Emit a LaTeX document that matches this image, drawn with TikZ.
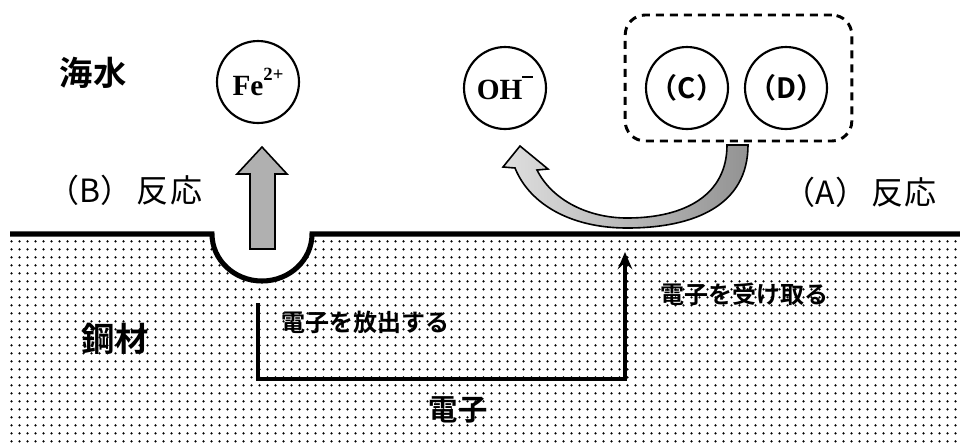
\documentclass[tikz,border=0pt]{standalone}
\usepackage{fontspec}
\newfontfamily\jp{Noto Sans CJK JP}
\newfontfamily\jpb{Noto Sans CJK JP Bold}
\newfontfamily\tnr{Liberation Serif}
\usetikzlibrary{patterns.meta,arrows.meta}
\tikzdeclarepattern{
  name=steeldots,
  type=uncolored,
  bounding box={(0pt,0pt) and (6pt,6pt)},
  tile size={(6pt,6pt)},
  code={\fill (3pt,3pt) circle (1.05pt);}
}
\tikzset{
  ion/.style={draw, circle, line width=1.6pt, minimum size=61.5pt, inner sep=0pt},
  dbox/.style={draw, line width=2.2pt, dash pattern=on 6pt off 4.5pt, rounded corners=15pt,
    minimum width=170pt, minimum height=94.5pt, inner sep=0pt},
  surface/.style={line width=3.8pt},
  eflow/.style={line width=3.3pt, -{Stealth[length=13pt,width=11pt,inset=5pt]}},
  biglabel/.style={font=\jp\fontsize{24}{26}\selectfont, inner sep=0pt},
  boldlabel/.style={font=\jpb\fontsize{25}{28}\selectfont, inner sep=0pt},
  elabel/.style={font=\jpb\fontsize{18}{20}\selectfont, inner sep=0pt},
  ionlabel/.style={font=\tnr\bfseries\fontsize{22}{22}\selectfont},
  cdlabel/.style={font=\jpb\fontsize{21}{22}\selectfont},
  grayarrow/.style={draw, line width=1.2pt, fill=gray!62, line join=miter},
}
\begin{document}
\begin{tikzpicture}[x=0.75pt,y=-0.75pt]
\useasboundingbox (0,0) rectangle (960,444);
% steel body
\fill[pattern=steeldots, pattern color=black]
  (10,234) -- (212,234) arc[start angle=180,end angle=0,x radius=50,y radius=47]
  -- (960,234) -- (960,444) -- (10,444) -- cycle;
\draw[surface] (10,234) -- (212,234) arc[start angle=180,end angle=0,x radius=50,y radius=47]
  -- (960,234);
% labels
\node[boldlabel] (kaisui) at (93,73) {海水};
\node[biglabel] (bhanno) at (125,190) {（B）\hspace{3pt}反\hspace{1pt}応};
\node[biglabel] (ahanno) at (860,192) {（A）\hspace{3pt}反\hspace{1pt}応};
\node[boldlabel] (kozai) at (115,339) {鋼材};
% ions
\node[ion, ionlabel] (fe) at (258,82) {Fe\raisebox{0.5em}{\fontsize{14}{14}\selectfont 2+}};
\node[ion, ionlabel] (oh) at (505,88) {OH\raisebox{0.75em}{\rule{8pt}{1.4pt}}};
\node[ion, cdlabel] (c) at (687,88) {（C）};
\node[ion, cdlabel] (d) at (786,88) {（D）};
\node[dbox] (box) at (738.5,78) {};
% Fe2+ up arrow
\draw[grayarrow] (250,249) -- (250,174) -- (237,174) -- (262,147) -- (287,174)
  -- (275,174) -- (275,249) -- cycle;
% curved arrow
\shade[left color=gray!25, right color=gray!85, draw=black, line width=1.2pt]
  (748,145) .. controls (748,205) and (695,228) .. (627,228)
  .. controls (572,228) and (530,205) .. (515,168)
  -- (503,167) -- (520,146) -- (548,169) -- (537,170)
  .. controls (552,200) and (588,218) .. (627,218)
  .. controls (685,218) and (727,195) .. (727,145) -- cycle;
% electron flow
\coordinate (e1) at (258,303);
\coordinate (e2) at (625,379);
\coordinate (e3) at (625,252);
\draw[eflow] (e1) |- (e2) -- (e3);
\node[elabel, anchor=west] (houshutsu) at (281,322) {電子を放出する};
\node[elabel] (ukeru) at (744,294) {電子を受け取る};
\node[font=\jpb\fontsize{22}{24}\selectfont, inner sep=0pt] (denshi) at (458,410) {電子};
\end{tikzpicture}
\end{document}
